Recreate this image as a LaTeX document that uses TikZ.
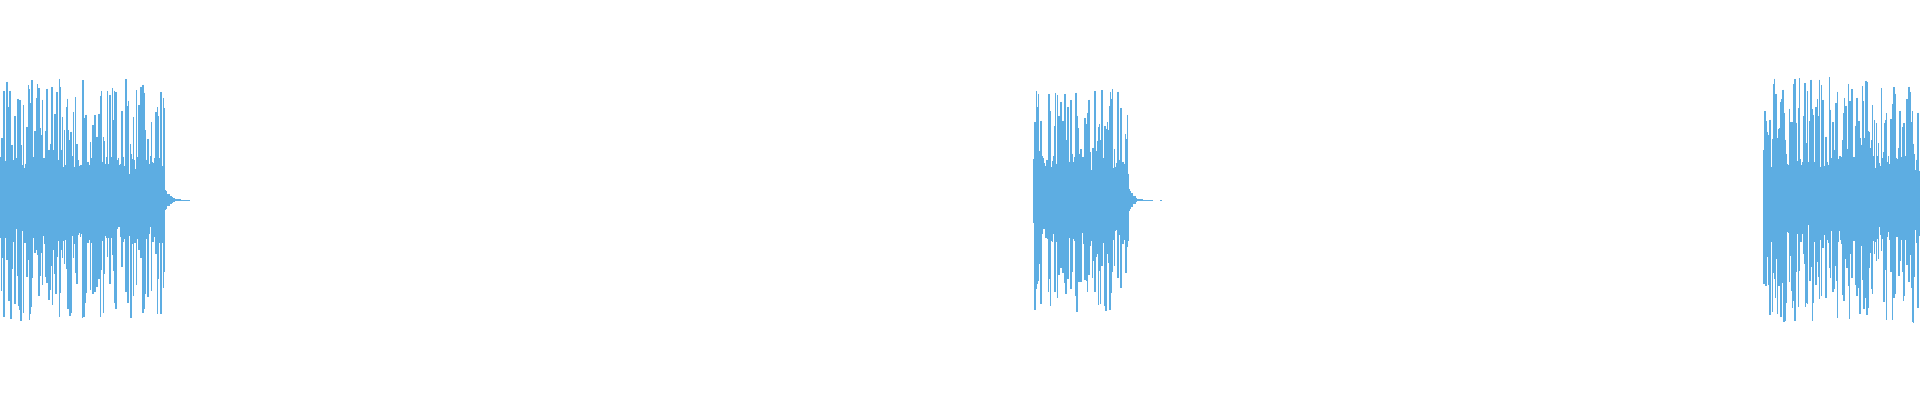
\documentclass[tikz,border=0pt]{standalone}
\definecolor{wave}{HTML}{5DADE2}
\begin{document}
\begin{tikzpicture}[x=1pt,y=1pt,wv/.style={draw=wave,line width=1.3pt}]
\useasboundingbox (0,0) rectangle (1920,400);
\pgfmathsetseed{7}
\newcommand{\burst}[3]{% start, end, max
  \foreach \x in {#1,#1.5,...,#2}{%
    \pgfmathsetmacro{\r}{rnd}
    \pgfmathsetmacro{\up}{\r<0.35 ? (45+(#3-45)*rnd) : (22+22*rnd)}
    \pgfmathsetmacro{\dn}{\r<0.35 ? (45+(#3-45)*rnd) : (22+22*rnd)}
    \draw[wv] (\x,200+\up) -- (\x,200-\dn);
  }}
\newcommand{\tail}[2]{% start, length
  \foreach \t in {0,1.5,...,#2}{%
    \pgfmathsetmacro{\h}{max(0.8,14*(1-\t/#2)^2*(0.6+0.4*rnd))}
    \draw[wv] (#1+\t,200+\h) -- (#1+\t,200-\h);
  }
  \draw[wave,line width=1pt] (#1,200) -- (#1+#2+10,200);}
\burst{0}{164}{122}
\tail{165}{15}
\burst{1034}{1128}{112}
\tail{1129}{14}
\draw[wave,line width=1pt] (1160,200) -- (1162,200);
\burst{1764}{1919}{124}
\end{tikzpicture}
\end{document}
